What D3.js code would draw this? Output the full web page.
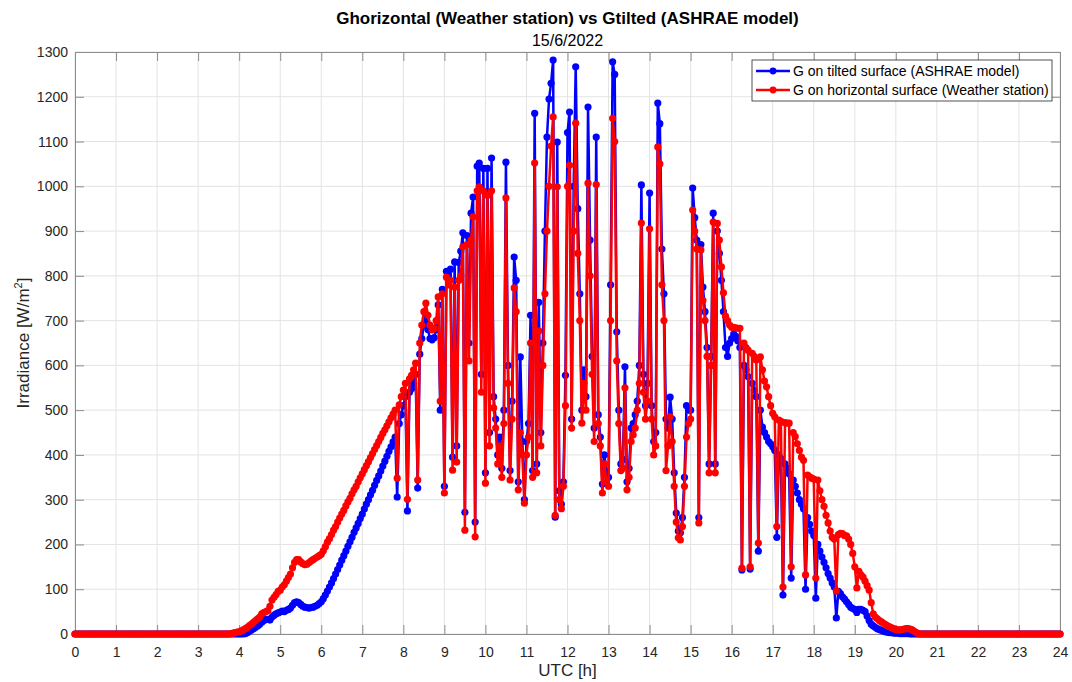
<!DOCTYPE html>
<html>
<head>
<meta charset="utf-8">
<script src="https://cdn.jsdelivr.net/npm/d3@7"></script>
<style>
  body { margin: 0; background: #fff; }
  svg { font-family: "Liberation Sans", Arial, sans-serif; }
</style>
</head>
<body>
<svg id="chart" width="1072" height="682"></svg>
<script>
// samples every 3 minutes, 20 per hour, 00:00 .. 24:00
const stepMinutes = 3;
const xTicks = d3.range(0, 25);
const yTicks = d3.range(0, 1301, 100);
const seriesNames = ['G on tilted surface (ASHRAE model)', 'G on horizontal surface (Weather station)'];
const seriesColors = ['#0000ff', '#ff0000'];

// G tilted (ASHRAE model), W/m2
const tilted = [
  0,0,0,0,0,0,0,0,0,0,0,0,0,0,0,0,0,0,0,0,
  0,0,0,0,0,0,0,0,0,0,0,0,0,0,0,0,0,0,0,0,
  0,0,0,0,0,0,0,0,0,0,0,0,0,0,0,0,0,0,0,0,
  0,0,0,0,0,0,0,0,0,0,0,0,0,0,0,0,0,0,0,0,
  0,0,0,1,3,6,9,12,15,18,22,26,30,33,33,31,38,42,45,47,
  49,51,50,53,55,58,64,70,72,70,66,62,60,59,58,59,60,62,64,68,
  72,79,87,96,105,114,124,134,144,154,165,175,185,196,206,216,227,237,247,258,
  268,279,290,300,311,321,332,343,353,364,375,386,397,408,418,429,440,306,470,490,
  510,530,275,540,548,560,580,326,625,660,690,712,680,660,657,662,680,735,500,770,
  330,810,800,815,395,831,420,830,855,896,272,890,650,940,976,250,1045,1052,580,1040,
  360,1040,450,1063,530,480,400,440,370,500,1054,600,365,520,842,790,340,619,430,300,
  430,470,712,365,1163,380,741,450,650,900,1110,1195,1230,1282,261,1099,320,290,340,578,
  1120,1166,480,1000,1267,950,760,500,590,530,1177,880,620,460,1110,490,440,335,400,360,
  350,780,1278,1250,675,500,380,390,597,340,370,460,470,490,520,600,1003,580,510,560,
  985,510,430,450,1186,1140,860,760,480,460,529,480,360,270,230,226,260,350,510,500,
  500,996,930,880,260,870,775,720,640,380,620,940,380,900,850,790,720,640,620,650,
  660,670,665,655,640,143,600,590,575,145,560,545,530,185,500,462,450,440,430,425,
  418,410,216,400,392,87,380,370,358,125,344,330,315,300,290,280,100,260,245,230,
  220,80,200,185,172,160,148,135,125,114,105,36,95,90,83,78,72,66,60,57,
  55,48,55,55,53,50,40,30,22,18,15,12,10,8,6,5,4,3,3,2,
  2,2,1,1,1,1,1,0,0,0,0,0,0,0,0,0,0,0,0,0,
  0,0,0,0,0,0,0,0,0,0,0,0,0,0,0,0,0,0,0,0,
  0,0,0,0,0,0,0,0,0,0,0,0,0,0,0,0,0,0,0,0,
  0,0,0,0,0,0,0,0,0,0,0,0,0,0,0,0,0,0,0,0,
  0
];

// G horizontal (weather station), W/m2
const horizontal = [
  0,0,0,0,0,0,0,0,0,0,0,0,0,0,0,0,0,0,0,0,
  0,0,0,0,0,0,0,0,0,0,0,0,0,0,0,0,0,0,0,0,
  0,0,0,0,0,0,0,0,0,0,0,0,0,0,0,0,0,0,0,0,
  0,0,0,0,0,0,0,0,0,0,0,0,0,0,0,0,1,2,3,4,
  5,7,9,12,15,19,22,26,30,34,38,45,48,50,52,62,76,82,88,95,
  98,105,110,118,126,134,148,160,166,166,161,157,155,156,159,163,166,169,172,175,
  178,186,195,205,213,222,232,240,250,259,268,276,286,295,303,313,322,330,340,349,
  358,367,376,385,394,403,412,421,430,439,448,456,465,474,483,491,500,348,512,530,
  545,560,301,570,578,590,605,344,650,690,720,739,712,690,679,683,700,753,520,760,
  315,797,780,790,366,775,384,790,800,865,232,870,610,880,932,217,990,999,540,990,
  337,980,420,990,505,460,380,420,350,470,974,560,344,480,773,720,322,450,400,292,
  400,440,650,350,1052,360,677,420,600,760,900,1000,1090,1155,265,999,300,280,330,510,
  1000,1047,460,900,1141,850,700,471,560,500,1007,800,580,430,1004,470,420,315,380,340,
  330,700,1152,1100,610,470,365,370,550,322,350,430,445,460,500,560,918,540,480,520,
  905,480,400,420,1088,1050,780,700,365,420,485,430,330,250,215,210,240,330,440,470,
  480,947,900,860,248,858,745,700,620,360,600,920,360,917,880,820,762,710,700,690,
  685,685,684,683,683,147,650,640,634,150,627,620,612,203,619,590,565,552,530,510,
  493,485,240,478,475,105,472,471,471,150,450,441,425,410,395,388,132,355,351,348,
  346,125,344,320,300,285,265,248,230,216,212,96,222,225,224,220,219,212,200,180,
  150,103,140,132,127,118,108,98,70,45,38,34,30,27,24,21,18,16,14,12,
  10,9,9,10,11,12,12,11,9,6,3,1,0,0,0,0,0,0,0,0,
  0,0,0,0,0,0,0,0,0,0,0,0,0,0,0,0,0,0,0,0,
  0,0,0,0,0,0,0,0,0,0,0,0,0,0,0,0,0,0,0,0,
  0,0,0,0,0,0,0,0,0,0,0,0,0,0,0,0,0,0,0,0,
  0
];

const svg = d3.select('#chart');
const margin = { left: 75, right: 12, top: 52, bottom: 48 };
const width = 1072, height = 682;

const x = d3.scaleLinear().domain([0, 24]).range([margin.left, width - margin.right]);
const y = d3.scaleLinear().domain([0, 1300]).range([height - margin.bottom, margin.top]);

const axisColor = '#8c8c8c';
const textColor = '#262626';

// grid
const grid = svg.append('g');
grid.selectAll('.gx').data(xTicks).enter().append('line')
  .attr('x1', d => x(d)).attr('x2', d => x(d))
  .attr('y1', y(0)).attr('y2', y(1300))
  .attr('stroke', '#e3e3e3').attr('stroke-width', 1);
grid.selectAll('.gy').data(yTicks).enter().append('line')
  .attr('x1', x(0)).attr('x2', x(24))
  .attr('y1', d => y(d)).attr('y2', d => y(d))
  .attr('stroke', '#e3e3e3').attr('stroke-width', 1);

// axes with inward ticks, box on
const tickLen = 9;
const gBottom = svg.append('g').attr('transform', `translate(0,${y(0)})`)
  .call(d3.axisBottom(x).tickValues(xTicks).tickSize(-tickLen).tickPadding(13).tickFormat(d3.format('d')));
const gTop = svg.append('g').attr('transform', `translate(0,${y(1300)})`)
  .call(d3.axisTop(x).tickValues(xTicks).tickSize(-tickLen).tickFormat(''));
const gLeft = svg.append('g').attr('transform', `translate(${x(0)},0)`)
  .call(d3.axisLeft(y).tickValues(yTicks).tickSize(-tickLen).tickPadding(7).tickFormat(d3.format('d')));
const gRight = svg.append('g').attr('transform', `translate(${x(24)},0)`)
  .call(d3.axisRight(y).tickValues(yTicks).tickSize(-tickLen).tickFormat(''));

[gBottom, gTop, gLeft, gRight].forEach(g => {
  g.select('.domain').attr('stroke', axisColor);
  g.selectAll('.tick line').attr('stroke', axisColor);
  g.selectAll('.tick text').attr('fill', textColor).attr('font-size', 14)
    .attr('font-family', '"Liberation Sans", Arial, sans-serif');
});

// data
const toPoints = vals => vals.map((v, i) => ({ h: i * stepMinutes / 60, v: v }));
const series = [toPoints(tilted), toPoints(horizontal)];
const line = d3.line().x(d => x(d.h)).y(d => y(d.v));

series.forEach((pts, i) => {
  const g = svg.append('g');
  g.append('path').datum(pts)
    .attr('d', line)
    .attr('fill', 'none')
    .attr('stroke', seriesColors[i])
    .attr('stroke-width', 2.5)
    .attr('stroke-linejoin', 'round');
  g.selectAll('circle').data(pts).enter().append('circle')
    .attr('cx', d => x(d.h)).attr('cy', d => y(d.v))
    .attr('r', 3.6)
    .attr('fill', seriesColors[i]);
});

// titles
const midX = (x(0) + x(24)) / 2;
svg.append('text').attr('x', midX).attr('y', 24)
  .attr('text-anchor', 'middle').attr('font-size', 17).attr('font-weight', 'bold')
  .attr('fill', '#000').text('Ghorizontal (Weather station) vs Gtilted (ASHRAE model)');
svg.append('text').attr('x', midX).attr('y', 46)
  .attr('text-anchor', 'middle').attr('font-size', 16)
  .attr('fill', '#000').text('15/6/2022');

svg.append('text').attr('x', midX).attr('y', 676)
  .attr('text-anchor', 'middle').attr('font-size', 17)
  .attr('fill', textColor).text('UTC [h]');

const yLab = svg.append('text')
  .attr('transform', `translate(29,${(y(0) + y(1300)) / 2}) rotate(-90)`)
  .attr('text-anchor', 'middle').attr('font-size', 17).attr('fill', textColor);
yLab.append('tspan').text('Irradiance [W/m');
yLab.append('tspan').attr('font-size', 11).attr('dy', -7).text('2');
yLab.append('tspan').attr('dy', 7).text(']');

// legend
const lg = svg.append('g').attr('transform', 'translate(752,60)');
lg.append('rect').attr('width', 300).attr('height', 41)
  .attr('fill', '#fff').attr('stroke', '#262626').attr('stroke-width', 0.8);
seriesNames.forEach((name, i) => {
  const cy = 11 + i * 19;
  lg.append('line').attr('x1', 4).attr('x2', 38).attr('y1', cy).attr('y2', cy)
    .attr('stroke', seriesColors[i]).attr('stroke-width', 2.5);
  lg.append('circle').attr('cx', 21).attr('cy', cy).attr('r', 3.4).attr('fill', seriesColors[i]);
  lg.append('text').attr('x', 41).attr('y', cy + 5).attr('font-size', 14)
    .attr('fill', '#000').text(name);
});
</script>
</body>
</html>
